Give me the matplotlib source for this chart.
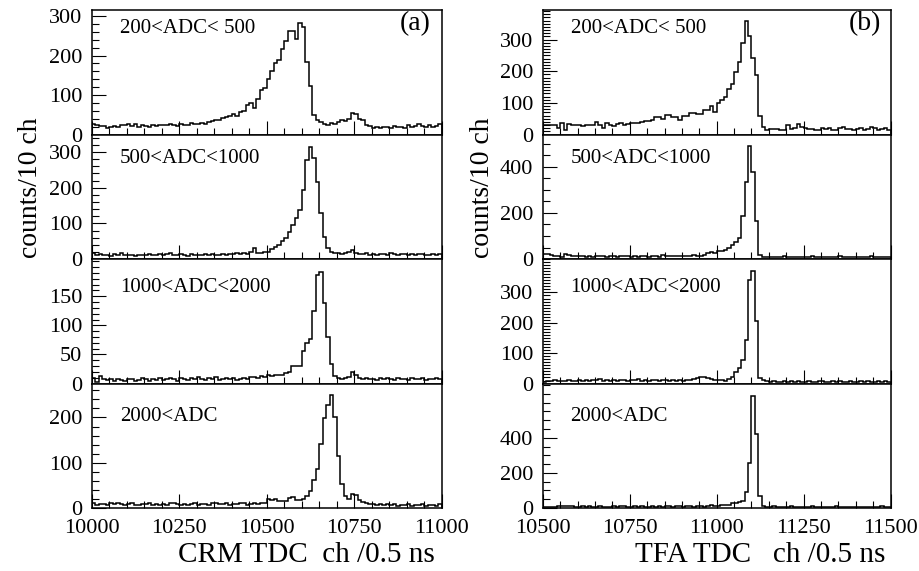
import numpy as np
import matplotlib
matplotlib.use("Agg")
import matplotlib.pyplot as plt
from matplotlib.ticker import MultipleLocator, FixedLocator

# --- dados: contagens por bin (10 canais por bin, 100 bins por painel) ---
crm_start = 10000
tfa_start = 10500
bin_width = 10
n_bins = 100

crm_200_500 = [
    28, 24, 22, 22, 16, 18, 22, 18, 24, 25,
    26, 22, 27, 20, 24, 22, 20, 24, 22, 23,
    25, 24, 28, 24, 22, 26, 24, 25, 30, 28,
    28, 30, 27, 32, 34, 38, 36, 42, 45, 48,
    52, 46, 58, 60, 74, 80, 68, 90, 112, 118,
    140, 160, 180, 190, 217, 238, 263, 263, 242, 282,
    271, 183, 124, 49, 36, 32, 28, 25, 30, 28,
    32, 36, 34, 40, 55, 53, 40, 36, 25, 22,
    17, 19, 17, 18, 20, 16, 22, 18, 20, 17,
    24, 20, 22, 26, 22, 18, 25, 20, 22, 28]

crm_500_1000 = [
    16, 12, 14, 10, 12, 9, 14, 11, 16, 12,
    10, 12, 9, 11, 12, 10, 13, 11, 12, 14,
    11, 13, 16, 12, 10, 14, 12, 9, 13, 12,
    10, 12, 14, 11, 13, 12, 10, 14, 12, 15,
    13, 16, 14, 18, 15, 20, 30, 16, 18, 20,
    20, 27, 35, 40, 50, 60, 77, 95, 114, 137,
    193, 278, 315, 284, 217, 128, 63, 30, 19, 17,
    16, 15, 18, 20, 25, 18, 15, 14, 16, 12,
    14, 12, 15, 13, 12, 16, 14, 11, 13, 15,
    12, 14, 10, 13, 15, 12, 11, 14, 12, 13]

crm_1000_2000 = [
    9, 3, 13, 8, 6, 7, 5, 8, 6, 4,
    7, 8, 5, 6, 9, 7, 5, 8, 6, 9,
    6, 8, 10, 7, 5, 9, 8, 6, 10, 7,
    12, 8, 6, 9, 7, 11, 6, 8, 10, 7,
    9, 6, 8, 10, 7, 12, 11, 9, 13, 11,
    14, 13, 15, 14, 15, 18, 20, 30, 30, 31,
    56, 70, 76, 124, 186, 191, 139, 80, 33, 13,
    9, 8, 10, 11, 19, 14, 10, 8, 9, 7,
    8, 6, 9, 7, 10, 8, 6, 9, 7, 8,
    6, 9, 7, 8, 10, 6, 8, 7, 9, 8]

crm_2000_up = [
    12, 6, 8, 9, 7, 10, 8, 12, 9, 7,
    8, 10, 7, 6, 9, 8, 11, 7, 8, 6,
    9, 7, 10, 12, 8, 7, 9, 6, 8, 10,
    7, 9, 8, 6, 10, 12, 9, 8, 11, 7,
    9, 8, 10, 12, 7, 9, 11, 8, 10, 12,
    20, 18, 20, 16, 15, 16, 22, 24, 17, 18,
    20, 27, 37, 61, 87, 142, 198, 227, 250, 201,
    116, 53, 27, 20, 31, 28, 18, 13, 10, 9,
    9, 7, 8, 6, 9, 7, 8, 5, 7, 6,
    8, 5, 7, 6, 8, 5, 7, 6, 5, 9]

tfa_200_500 = [
    29, 29, 29, 29, 22, 35, 14, 32, 29, 29,
    30, 28, 29, 30, 31, 41, 30, 22, 38, 30,
    27, 32, 35, 30, 33, 36, 38, 35, 40, 42,
    43, 45, 54, 54, 50, 61, 61, 54, 55, 45,
    59, 59, 68, 68, 65, 65, 78, 78, 91, 72,
    100, 108, 118, 143, 161, 199, 229, 290, 358, 312,
    242, 188, 59, 25, 16, 17, 18, 18, 14, 15,
    29, 18, 20, 32, 25, 20, 18, 17, 14, 15,
    20, 18, 22, 16, 15, 20, 24, 17, 19, 16,
    18, 22, 15, 17, 24, 20, 16, 18, 21, 15]

tfa_500_1000 = [
    23, 22, 18, 12, 14, 10, 20, 16, 12, 13,
    12, 14, 10, 12, 11, 13, 15, 12, 10, 14,
    12, 10, 13, 15, 12, 11, 14, 10, 13, 12,
    11, 14, 12, 10, 16, 13, 15, 12, 14, 13,
    15, 12, 14, 16, 13, 15, 17, 26, 30, 25,
    34, 36, 40, 49, 60, 74, 93, 188, 335, 490,
    379, 166, 19, 10, 9, 8, 10, 9, 8, 12,
    9, 10, 8, 11, 9, 8, 10, 12, 9, 8,
    10, 9, 11, 8, 10, 12, 9, 8, 10, 9,
    11, 8, 9, 10, 12, 9, 8, 11, 9, 10]

tfa_1000_2000 = [
    4, 8, 8, 11, 9, 10, 8, 12, 9, 10,
    11, 9, 12, 10, 13, 11, 14, 10, 12, 9,
    11, 10, 13, 12, 10, 11, 12, 14, 10, 12,
    9, 11, 12, 10, 13, 11, 10, 12, 9, 11,
    10, 12, 13, 15, 18, 20, 20, 17, 14, 11,
    11, 12, 10, 15, 22, 39, 50, 78, 144, 342,
    372, 205, 17, 11, 8, 6, 7, 5, 6, 8,
    5, 7, 6, 8, 5, 6, 7, 5, 6, 8,
    7, 6, 5, 8, 6, 7, 5, 6, 7, 5,
    6, 8, 5, 7, 6, 5, 7, 6, 8, 6]

tfa_2000_up = [
    4, 5, 3, 4, 12, 10, 11, 9, 10, 8,
    6, 9, 7, 10, 8, 6, 9, 7, 5, 8,
    10, 7, 9, 14, 8, 6, 9, 7, 10, 8,
    6, 9, 8, 11, 7, 9, 10, 8, 12, 9,
    7, 10, 12, 8, 14, 9, 6, 12, 18, 10,
    14, 16, 19, 20, 26, 30, 34, 38, 91, 257,
    638, 419, 67, 10, 8, 6, 9, 7, 5, 8,
    6, 9, 7, 5, 8, 6, 7, 9, 5, 6,
    8, 5, 7, 6, 9, 5, 7, 6, 8, 5,
    7, 6, 5, 8, 6, 7, 5, 9, 6, 7]

labels = ["200<ADC< 500", "500<ADC<1000", "1000<ADC<2000", "2000<ADC"]
crm_series = [crm_200_500, crm_500_1000, crm_1000_2000, crm_2000_up]
tfa_series = [tfa_200_500, tfa_500_1000, tfa_1000_2000, tfa_2000_up]

crm_ymax = [315, 349, 214, 275]
tfa_ymax = [393, 540, 410, 709]
# valores rotulados no eixo y (como no original)
crm_yticks = [[0, 100, 200, 300], [0, 100, 200, 300], [0, 50, 100, 150], [0, 100, 200]]
tfa_yticks = [[0, 100, 200, 300], [0, 200, 400], [0, 100, 200, 300], [0, 200, 400]]
crm_minor = [20, 20, 10, 20]
tfa_minor = [10, 50, 10, 50]
label_y = [0.855, 0.81, 0.775, 0.735]

plt.rcParams['font.family'] = ['Liberation Serif', 'DejaVu Serif']

fig = plt.figure(figsize=(9.2, 5.71), dpi=100)

bottom = 0.1103
height = 0.218
columns = [
    (0.100, 0.380, crm_start, crm_series, crm_ymax, crm_yticks, crm_minor, "(a)", "CRM TDC  ch /0.5 ns", 0.473, 0.033),
    (0.590, 0.378, tfa_start, tfa_series, tfa_ymax, tfa_yticks, tfa_minor, "(b)", "TFA TDC   ch /0.5 ns", 0.962, 0.525),
]

for x0, w, start, series, ymaxs, yticks, minors, tag, xtitle, xt_x, yt_x in columns:
    edges = start + bin_width * np.arange(n_bins + 1)
    for row in range(4):
        ax = fig.add_axes([x0, bottom + (3 - row) * height, w, height])
        ax.stairs(series[row], edges, color='black', linewidth=1.1)
        ax.set_xlim(start, start + 1000)
        ax.set_ylim(0, ymaxs[row])
        ax.xaxis.set_major_locator(MultipleLocator(250))
        ax.xaxis.set_minor_locator(MultipleLocator(50))
        ax.yaxis.set_major_locator(FixedLocator(yticks[row]))
        ax.yaxis.set_minor_locator(MultipleLocator(minors[row]))
        ax.tick_params(which='both', direction='in', top=False, right=False,
                       width=0.8, labelsize=16)
        ax.tick_params(which='major', length=10)
        ax.tick_params(which='minor', length=5)
        ax.tick_params(axis='y', pad=7)
        ax.tick_params(axis='x', pad=8)
        for sp in ax.spines.values():
            sp.set_linewidth(1.1)
        if row < 3:
            ax.set_xticklabels([])
        ax.text(0.08, label_y[row], labels[row], transform=ax.transAxes,
                fontsize=15, va='center', ha='left')
        if row == 0:
            ax.text(0.925, 0.895, tag, transform=ax.transAxes, fontsize=20,
                    va='center', ha='center')
    fig.text(xt_x, 0.028, xtitle, fontsize=21, ha='right', va='center')
    fig.text(yt_x, 0.795, "counts/10 ch", fontsize=20, rotation=90,
             ha='center', va='top')

fig.savefig("out.png", dpi=100)
